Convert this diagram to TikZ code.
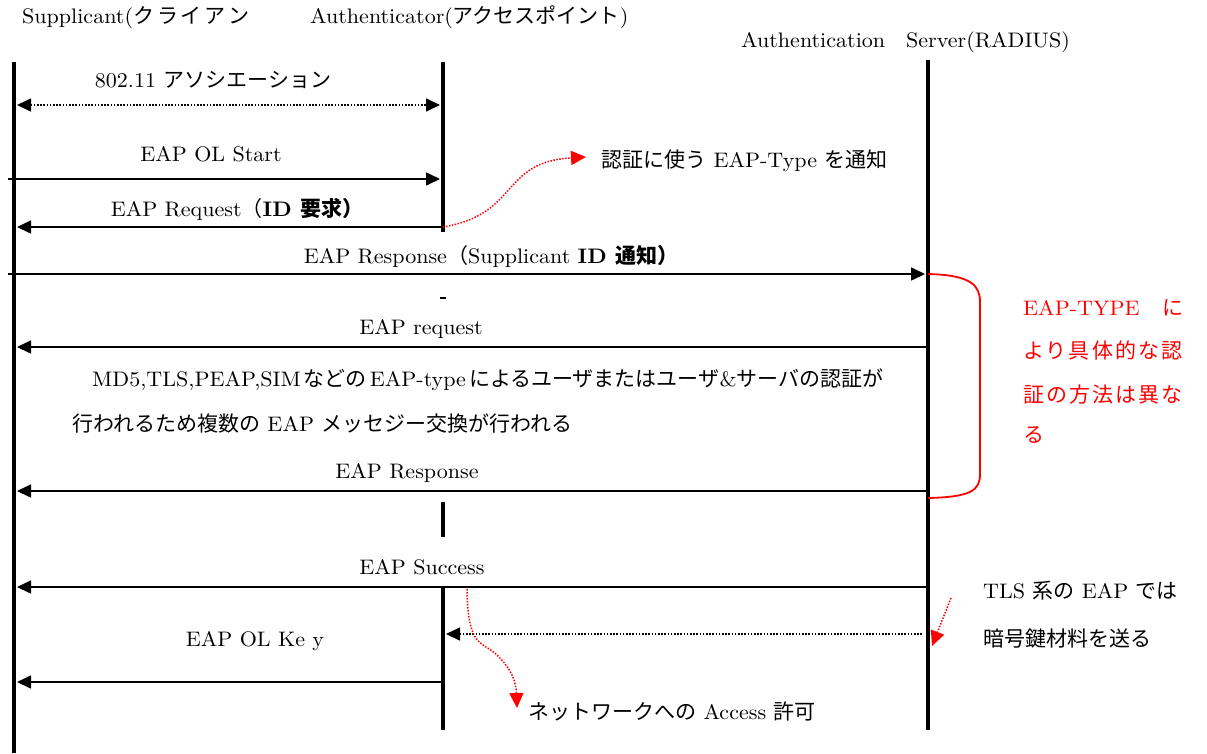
\documentclass[tikz,border=0pt]{standalone}
\usepackage{fontspec}
\usetikzlibrary{arrows.meta}
\setmainfont{lmroman10-regular.otf}[BoldFont=lmroman10-bold.otf,FakeStretch=1.05]
\newfontfamily\jpf{Noto Sans CJK JP}
\newfontfamily\jpsp[LetterSpace=10]{Noto Sans CJK JP}
\newfontfamily\jpwd[LetterSpace=14]{Noto Sans CJK JP}
\newcommand\jp[1]{{\jpf #1}}
\newcommand\gap{\hspace{3pt}}

\begin{document}
\begin{tikzpicture}[x=1pt,y=-1pt,
  font=\fontsize{21}{25}\selectfont,
  life/.style={line width=4.5pt},
  msg/.style={line width=1.6pt,-{Triangle[length=14pt,width=13pt]}},
  dotmsg/.style={line width=1.6pt,dash pattern=on 1.6pt off 1.6pt},
  note/.style={red,line width=1.5pt,dash pattern=on 1.5pt off 1.5pt,
    -{Triangle[length=15pt,width=14pt]}},
  lbl/.style={inner sep=0pt,text height=15pt,text depth=4pt},
]
\useasboundingbox (0,0) rectangle (1207,753);

% lifelines
\coordinate (S0) at (14,62);   \coordinate (S1) at (14,753);
\coordinate (A0) at (443,62);  \coordinate (A1) at (443,232);
\coordinate (A2) at (443,502); \coordinate (A3) at (443,537);
\coordinate (A4) at (443,588); \coordinate (A5) at (443,730);
\coordinate (R0) at (928,60);  \coordinate (R1) at (928,730);
\draw[life] (S0) -- (S1);
\draw[life] (A0) -- (A1);
\draw[life] (A2) -- (A3);
\draw[life] (A4) -- (A5);
\draw[life] (R0) -- (R1);

% headers
\node[lbl,anchor=west] (hS) at (22,18) {Supplicant(\jpwd クライアン};
\node[lbl,anchor=west] (hA) at (310,18) {Authenticator(\jp{アクセスポイント})};
\node[lbl,anchor=west] (hR) at (741,42) {Authentication\jp{　}Server(RADIUS)};

% message end points
\coordinate (m1s) at (17,105);  \coordinate (m1a) at (440,105);
\coordinate (m2s) at (8,179);   \coordinate (m2a) at (440,179);
\coordinate (m3a) at (441,227); \coordinate (m3s) at (17,227);
\coordinate (m4s) at (8,274);   \coordinate (m4r) at (925,274);
\coordinate (m5r) at (926,347); \coordinate (m5s) at (17,347);
\coordinate (m6r) at (926,491); \coordinate (m6s) at (17,491);
\coordinate (m7r) at (926,587); \coordinate (m7s) at (17,587);
\coordinate (m8r) at (922,634); \coordinate (m8a) at (446,634);
\coordinate (m9a) at (441,682); \coordinate (m9s) at (17,682);

\draw[dotmsg,{Triangle[length=14pt,width=13pt]}-{Triangle[length=14pt,width=13pt]}] (m1s) -- (m1a);
\draw[msg] (m2s) -- (m2a);
\draw[msg] (m3a) -- (m3s);
\draw[msg] (m4s) -- (m4r);
\draw[msg] (m5r) -- (m5s);
\draw[msg] (m6r) -- (m6s);
\draw[msg] (m7r) -- (m7s);
\draw[dotmsg,-{Triangle[length=14pt,width=13pt]}] (m8r) -- (m8a);
\draw[msg] (m9a) -- (m9s);

% small tick on the authenticator line
\coordinate (tk0) at (440,298); \coordinate (tk1) at (446,298);
\draw[line width=1.2pt] (tk0) -- (tk1);

% message labels
\node[lbl] (l1) at (213,82) {802.11 \jp{アソシエーション}};
\node[lbl] (l2) at (211,156) {EAP OL Start};
\node[lbl] (l3) at (237,211) {EAP Request\jp{（}\textbf{ID \jp{要求）}}};
\node[lbl] (l4) at (491,258) {EAP Response\jp{（}Supplicant \textbf{ID \jp{通知）}}};
\node[lbl] (l5) at (421,329) {EAP request};
\node[lbl,anchor=west] (l6) at (92,381) {MD5,TLS,PEAP,SIM\gap\jp{などの}\gap EAP-type\gap\jp{によるユーザまたはユーザ}\&\jp{サーバの認証が}};
\node[lbl,anchor=west] (l7) at (72,426) {\jp{行われるため複数の} EAP \jp{メッセジー交換が行われる}};
\node[lbl] (l8) at (407,473) {EAP Response};
\node[lbl] (l9) at (422,569) {EAP Success};
\node[lbl] (l10) at (255,641) {EAP OL Ke y};

% red annotations
\node[lbl,anchor=west] (n1) at (601,162) {\jp{認証に使う} EAP-Type \jp{を通知}};
\coordinate (c1) at (443,227);
\draw[note] (c1) .. controls (520,214) and (500,162) .. (586,157);

\coordinate (b0) at (928,274); \coordinate (b1) at (928,498);
\draw[red,line width=1.8pt] (b0) .. controls (972,275) and (980,286) .. (980,302)
  -- (980,474) .. controls (980,490) and (972,497) .. (b1);
\begin{scope}[red]
\node[lbl,anchor=west] (t1) at (1023,310) {EAP-TYPE\jpsp{　に}};
\node[lbl,anchor=west] (t2) at (1023,353) {\jpsp より具体的な認};
\node[lbl,anchor=west] (t3) at (1023,397) {\jpsp 証の方法は異な};
\node[lbl,anchor=west] (t4) at (1023,437) {\jpsp る};
\end{scope}

\node[lbl,anchor=west] (k1) at (983,593) {TLS \jp{系の} EAP \jp{では}};
\node[lbl,anchor=west] (k2) at (983,641) {\jp{暗号鍵材料を送る}};
\coordinate (c2) at (951,598); \coordinate (c3) at (932,646);
\draw[note] (c2) -- (c3);

\node[lbl,anchor=west] (p1) at (528,714) {\jp{ネットワークへの} Access \jp{許可}};
\coordinate (c4) at (467,589); \coordinate (c5) at (517,708);
\draw[note] (c4) .. controls (468,650) and (482,640) .. (498,656)
  .. controls (512,670) and (516,682) .. (c5);
\end{tikzpicture}
\end{document}
